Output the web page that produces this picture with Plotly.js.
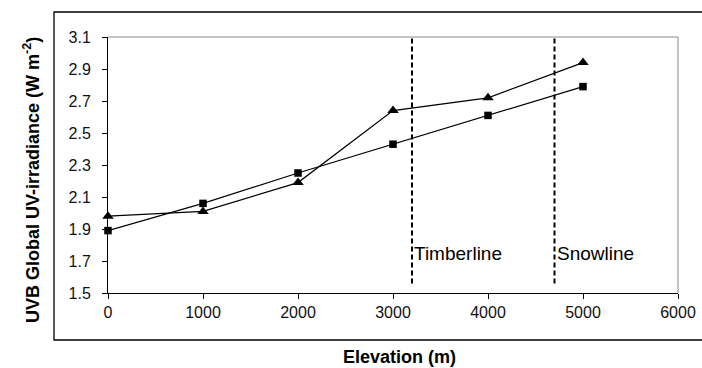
<!DOCTYPE html>
<html>
<head>
<meta charset="utf-8">
<script src="https://cdn.plot.ly/plotly-3.0.1.min.js"></script>
<style>html,body{margin:0;padding:0;background:#fff;}#chart{width:702px;height:368px;}</style>
</head>
<body>
<div id="chart"></div>
<script>
const elevation = [0, 1000, 2000, 3000, 4000, 5000];
const squareSeries = [1.89, 2.06, 2.25, 2.43, 2.61, 2.79];
const triangleSeries = [1.98, 2.01, 2.19, 2.64, 2.72, 2.94];
const zoneX = [3200, 4700];
const zoneLabels = ["Timberline", "Snowline"];
const zoneTop = 3.1;
const zoneBottom = 1.56;
const labelY = 1.75;
const xTicks = [0, 1000, 2000, 3000, 4000, 5000, 6000];
const yTicks = [1.5, 1.7, 1.9, 2.1, 2.3, 2.5, 2.7, 2.9, 3.1];

const FONT = 'Liberation Sans';

const traces = [
  {x: elevation, y: triangleSeries, mode: 'lines+markers', type: 'scatter',
   line: {color: '#000', width: 1.2},
   marker: {symbol: 'triangle-up', size: 10, color: '#000'}, cliponaxis: false},
  {x: elevation, y: squareSeries, mode: 'lines+markers', type: 'scatter',
   line: {color: '#000', width: 1.2},
   marker: {symbol: 'square', size: 7.5, color: '#000'}, cliponaxis: false}
];

const shapes = zoneX.map(x => ({type: 'line', xref: 'x', yref: 'y', x0: x, x1: x, y0: zoneBottom, y1: zoneTop,
  line: {color: '#000', width: 2, dash: '5px,3px'}}));
shapes.push({type: 'rect', xref: 'paper', yref: 'paper', x0: -0.0947, x1: 1.06, y0: -0.1836, y1: 1.0977,
  line: {color: '#000', width: 1.3}, layer: 'below'});
shapes.push({type: 'line', xref: 'paper', yref: 'paper', x0: 0, x1: 1, y0: 1, y1: 1, line: {color: '#888', width: 1}});
shapes.push({type: 'line', xref: 'paper', yref: 'paper', x0: 1, x1: 1, y0: 0, y1: 1, line: {color: '#888', width: 1}});

const annotations = zoneX.map((x, i) => ({x: x, y: labelY, xref: 'x', yref: 'y', text: zoneLabels[i],
  showarrow: false, xanchor: 'left', xshift: 0, font: {family: FONT, size: 19, color: '#000'}}));
annotations.push({xref: 'paper', yref: 'paper', x: (399 - 108) / 570, y: (293 - 357) / 256,
  text: '<b>Elevation (m)</b>', showarrow: false, xanchor: 'center', yanchor: 'middle',
  font: {family: FONT, size: 18, color: '#000'}});
annotations.push({xref: 'paper', yref: 'paper', x: (31 - 108) / 570, y: (293 - 180) / 256,
  text: '<b>UVB Global UV-irradiance (W m<sup>-2</sup>)</b>', showarrow: false, textangle: -90,
  xanchor: 'center', yanchor: 'middle', font: {family: FONT, size: 18, color: '#000'}});

const layout = {
  width: 702, height: 368,
  margin: {l: 108, r: 24, t: 37, b: 75, pad: 0},
  paper_bgcolor: '#fff', plot_bgcolor: '#fff',
  showlegend: false,
  font: {family: FONT, size: 16, color: '#000'},
  xaxis: {range: [0, 6000], tickvals: xTicks, ticktext: xTicks.map(String), showgrid: false, zeroline: false,
    showline: true, linecolor: '#000', linewidth: 1, ticks: 'outside', ticklen: 5, tickcolor: '#000',
    tickfont: {family: FONT, size: 16, color: '#111'}},
  yaxis: {range: [1.5, 3.1], tickvals: yTicks, ticktext: yTicks.map(v => v.toFixed(1)), showgrid: false, zeroline: false,
    showline: true, linecolor: '#000', linewidth: 1, ticks: 'outside', ticklen: 5, tickcolor: '#000',
    ticklabelstandoff: 8,
    tickfont: {family: FONT, size: 16, color: '#111'}},
  shapes: shapes,
  annotations: annotations
};

Plotly.newPlot('chart', traces, layout, {displayModeBar: false, staticPlot: true});
</script>
</body>
</html>
